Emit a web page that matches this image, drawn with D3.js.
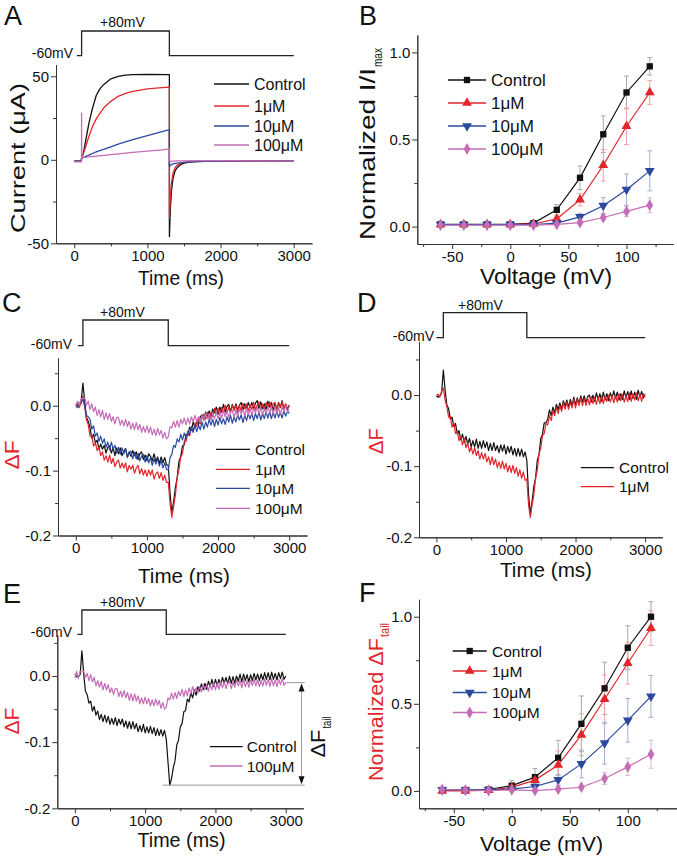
<!DOCTYPE html>
<html><head><meta charset="utf-8">
<script src="https://cdnjs.cloudflare.com/ajax/libs/d3/7.8.5/d3.min.js"></script>
<style>body{margin:0;background:#fff}svg{display:block}</style>
</head><body><script>
// ---------------- DATA ----------------
const seriesNames = ["Control", "1\u03BCM", "10\u03BCM", "100\u03BCM"];
// Panel A: current traces (time ms, current µA)
const aControlT = [0,95,100,125,150,200,250,300,350,400,500,600,700,800,1000,1300,1300.5,1305,1315,1330,1350,1375,1400,1450,1500,1600,2000,2500,3000];
const aControlV = [-0.8,-0.8,1,4,10,22,31,38.5,42.5,45,48.5,50,50.7,51,51.2,51,-46,-40,-28,-18,-11,-7,-5,-3,-2,-1.2,-0.7,-0.6,-0.8];
const a1uMT = [0,95,100,150,200,250,300,400,500,600,700,800,1000,1200,1300,1300.5,1310,1325,1350,1375,1400,1450,1500,1600,2000,2500,3000];
const a1uMV = [-0.8,-0.8,1,7,14,20,24.5,31,35,38,39.8,41,42.5,43.2,43.5,-35,-25,-15,-8,-5,-3.5,-2,-1.5,-1,-0.6,-0.6,-0.8];
const a10uMT = [0,95,100,200,300,400,500,600,700,800,900,1000,1100,1200,1300,1300.5,1320,1350,1400,1500,1700,2000,2500,3000];
const a10uMV = [-0.8,-0.8,1,2.8,4.8,6.2,7.8,9.4,10.8,12.1,13.3,14.5,15.6,16.8,18,-4,-3,-2.5,-2,-1.5,-1,-0.8,-0.6,-0.8];
const a100uMT = [0,95,99,100,101,105,110,200,400,600,800,1000,1200,1300,1300.5,1310,1400,2000,2500,3000];
const a100uMV = [-1.2,-1.2,-1.2,28,8,2,1.2,1.7,2.7,3.6,4.4,5.2,6,6.5,-0.5,-1,-0.7,-0.5,-0.6,-0.8];

// Panels B & F: voltages and normalized values with SD
const voltages = [-60,-40,-20,0,20,40,60,80,100,120];
const bControl = [0.013,0.013,0.013,0.013,0.02,0.096,0.28,0.53,0.77,0.92];
const b1uM     = [0.012,0.012,0.012,0.012,0.015,0.044,0.154,0.352,0.576,0.77];
const b10uM    = [0.011,0.011,0.011,0.011,0.012,0.02,0.056,0.12,0.212,0.32];
const b100uM   = [0.008,0.008,0.008,0.008,0.008,0.013,0.023,0.052,0.087,0.123];
const bControlErr = [0,0,0,0,0.006,0.03,0.068,0.105,0.094,0.05];
const b1uMErr     = [0,0,0,0,0.004,0.012,0.035,0.09,0.105,0.068];
const b10uMErr    = [0,0,0,0,0.003,0.008,0.02,0.046,0.09,0.115];
const b100uMErr   = [0,0,0,0,0.002,0.005,0.01,0.015,0.03,0.042];

const fControl = [0.005,0.005,0.008,0.03,0.079,0.19,0.385,0.589,0.822,1.0];
const f1uM     = [0.0,0.0,0.004,0.02,0.062,0.149,0.322,0.526,0.733,0.935];
const f10uM    = [0.006,0.005,0.006,0.01,0.025,0.063,0.155,0.274,0.405,0.543];
const f100uM   = [0.008,0.005,0.002,0.006,0.002,0.01,0.021,0.071,0.138,0.21];
const fControlErr = [0.005,0.005,0.01,0.03,0.05,0.1,0.16,0.15,0.126,0.086];
const f1uMErr     = [0.005,0.005,0.01,0.02,0.03,0.08,0.12,0.14,0.12,0.1];
const f10uMErr    = [0.005,0.005,0.005,0.01,0.02,0.03,0.08,0.12,0.125,0.12];
const f100uMErr   = [0.005,0.005,0.005,0.005,0.005,0.01,0.01,0.035,0.05,0.08];

// Panels C, D, E: fluorescence traces, sampled every 25 ms from 0 to 3000 ms, values in ΔF × 1000
const traceTimes = d3.range(0, 3001, 25);
const cControl = [2,0,2,6,35,7,-18,-24,-34,-50,-44,-57,-53,-67,-59,-67,-61,-73,-64,-62,-73,-65,-77,-65,-74,-65,-77,-70,-66,-79,-71,-78,-69,-77,-71,-83,-74,-71,-83,-76,-85,-74,-78,-85,-74,-86,-79,-89,-79,-88,-80,-91,-92,-135,-165,-148,-126,-111,-86,-78,-62,-60,-44,-46,-33,-38,-25,-33,-23,-29,-17,-14,-22,-10,-17,-8,-17,-5,-11,-2,-13,-2,-10,2,-10,-1,2,-9,2,-7,3,-7,1,5,-7,3,-6,5,-3,5,-6,4,8,-4,6,-5,3,-6,7,-2,5,-7,4,-6,5,-3,8,-5,2,-6,1];
const c1uM = [1,3,-3,6,15,-2,-22,-29,-47,-46,-62,-57,-69,-64,-77,-71,-84,-77,-87,-76,-89,-81,-94,-87,-84,-96,-88,-96,-88,-102,-92,-98,-92,-104,-96,-92,-105,-97,-107,-99,-109,-99,-107,-99,-113,-105,-102,-112,-103,-115,-107,-118,-118,-150,-172,-155,-138,-111,-99,-79,-74,-55,-55,-42,-46,-34,-40,-27,-32,-19,-28,-18,-13,-21,-10,-20,-10,-17,-4,-13,-4,-14,-3,-10,1,-11,-2,-11,1,-7,1,-10,1,-8,4,-5,3,-8,1,-6,5,-6,1,6,-6,3,-6,5,-3,6,-4,3,5,-6,4,-2,6,-5,3,-4,0];
const c10uM = [-1,-3,4,3,12,-1,-15,-17,-21,-36,-31,-47,-42,-55,-47,-58,-51,-64,-56,-68,-56,-67,-61,-73,-64,-75,-65,-74,-66,-80,-72,-70,-82,-72,-82,-73,-85,-78,-75,-87,-77,-88,-80,-92,-82,-90,-82,-93,-84,-96,-88,-98,-99,-80,-75,-61,-64,-51,-56,-44,-53,-42,-50,-39,-45,-32,-41,-30,-40,-30,-37,-25,-36,-25,-33,-21,-30,-21,-32,-21,-30,-18,-28,-20,-29,-17,-25,-15,-27,-17,-25,-14,-22,-14,-26,-14,-23,-12,-20,-12,-23,-12,-20,-10,-22,-12,-20,-9,-19,-9,-20,-10,-19,-8,-18,-10,-19,-8,-16,-9,-12];
const c100uM = [2,7,1,11,11,12,1,7,-6,3,-9,-2,-15,-6,-17,-7,-21,-11,-21,-12,-24,-17,-28,-18,-18,-30,-22,-31,-21,-32,-24,-36,-27,-37,-26,-37,-29,-41,-32,-41,-31,-42,-33,-45,-36,-46,-35,-45,-38,-50,-41,-51,-48,-32,-34,-24,-33,-23,-33,-21,-28,-19,-29,-19,-28,-17,-25,-15,-25,-17,-25,-15,-23,-12,-20,-12,-22,-12,-20,-9,-20,-10,-19,-7,-17,-8,-18,-9,-7,-18,-7,-16,-5,-13,-5,-16,-4,-14,-5,-15,-4,-11,-2,-12,-3,-14,-5,-12,-1,-11,-2,-13,-1,-12,-3,-13,-2,-9,0,-10,-6];
const dControl = [-1,-3,-1,3,35,7,-14,-19,-34,-31,-44,-40,-55,-50,-63,-55,-67,-58,-69,-61,-73,-64,-73,-62,-75,-65,-75,-64,-74,-66,-78,-68,-78,-67,-78,-71,-81,-70,-79,-70,-83,-72,-81,-72,-84,-75,-86,-75,-86,-76,-87,-80,-92,-140,-168,-150,-129,-117,-92,-84,-61,-55,-39,-39,-34,-21,-29,-17,-25,-13,-21,-11,-20,-8,-16,-7,-17,-6,-15,-3,-14,-4,-12,-1,-10,-1,-11,-2,0,-10,0,-9,3,-7,2,-9,4,-7,2,-8,3,-4,6,-5,4,-7,2,-6,6,-4,5,-6,6,-5,4,-6,7,-3,5,-4,1];
const d1uM = [0,1,-3,5,10,-7,-16,-31,-30,-45,-39,-54,-50,-64,-58,-70,-61,-74,-67,-80,-73,-83,-74,-85,-78,-90,-81,-90,-82,-94,-87,-98,-87,-98,-90,-102,-94,-103,-93,-104,-96,-108,-99,-109,-99,-110,-102,-114,-105,-117,-108,-120,-118,-155,-172,-155,-141,-117,-106,-82,-75,-57,-54,-40,-42,-29,-36,-22,-29,-17,-26,-15,-23,-11,-20,-10,-20,-10,-18,-6,-18,-6,-15,-4,-15,-5,-15,-4,-14,-2,-12,-3,-13,-3,-12,-1,-12,-1,-9,0,-10,-1,-11,0,-10,2,-8,1,-10,-1,-9,3,-9,2,-7,3,-8,1,-9,2,-3];
const eControl = [3,-1,-1,2,38,4,-23,-28,-41,-38,-53,-46,-59,-53,-66,-58,-69,-59,-70,-61,-73,-64,-73,-63,-75,-65,-73,-65,-77,-68,-79,-69,-80,-69,-80,-72,-84,-75,-84,-73,-86,-77,-86,-76,-87,-78,-90,-80,-90,-81,-91,-82,-95,-130,-165,-155,-139,-128,-104,-97,-77,-72,-54,-52,-35,-39,-25,-33,-21,-29,-16,-23,-12,-21,-11,-20,-8,-16,-5,-16,-5,-15,-5,-13,-2,-11,-2,-12,0,-11,-1,-11,0,-8,3,-9,3,-7,2,-9,2,-7,4,-6,3,-7,3,-6,5,-5,5,-6,6,-5,4,-6,5,-4,6,-5,0];
const e100uM = [-3,7,-4,7,6,7,-2,4,-7,2,-9,-2,-15,-7,-17,-8,-21,-11,-21,-13,-25,-18,-28,-19,-19,-31,-23,-32,-22,-33,-25,-37,-27,-38,-27,-38,-30,-42,-33,-42,-32,-42,-34,-45,-36,-45,-35,-44,-37,-49,-40,-50,-47,-33,-36,-26,-35,-25,-34,-23,-30,-20,-31,-21,-30,-18,-27,-16,-26,-18,-26,-16,-24,-13,-21,-13,-23,-13,-21,-10,-21,-11,-20,-8,-18,-9,-19,-10,-8,-19,-9,-17,-6,-15,-7,-18,-5,-16,-7,-17,-6,-14,-5,-15,-6,-16,-7,-15,-4,-14,-5,-16,-4,-15,-6,-16,-5,-13,-4,-14,-10];
// ΔF_tail annotation in panel E (ΔF × 1000)
const tailLevels = [-10, -165];
// Voltage protocol (ms)
const protocolTimes = [100, 1300, 3000];

// Tick values
const timeTicks = [0,1000,2000,3000], timeMinor = [500,1500,2500];
const currentTicks = [-50,0,50], currentMinor = [-25,25];
const voltTicks = [-50,0,50,100], voltMinor = [-75,-25,25,75,125];
const normTicks = [0,0.5,1.0], normMinor = [0.25,0.75];
const dfTicks = [-200,-100,0], dfMinor = [-150,-50,50];

// ---------------- STYLE ----------------
const FONT = '"Liberation Sans", Arial, Helvetica, sans-serif';
const COL = ["#111111", "#e3262b", "#2b4a9f", "#c46cb6"];
const ERRCOL = ["#a8a8a8", "#f0a2a2", "#a3afd4", "#e4b6dc"];
const RED = "#e3262b";
const svg = d3.select("body").append("svg").attr("width", 677).attr("height", 856)
  .attr("font-family", FONT);

function axes(xs, ys, xMaj, xMin, yMaj, yMin, xFmt, yFmt) {
  const y0 = ys.range()[0], x0 = xs.range()[0];
  const g = svg.append("g");
  g.append("g").attr("transform", `translate(0,${y0})`)
    .call(d3.axisBottom(xs).tickValues(xMin).tickSize(3).tickSizeOuter(0).tickFormat(""));
  g.append("g").attr("transform", `translate(0,${y0})`)
    .call(d3.axisBottom(xs).tickValues(xMaj).tickSize(5).tickSizeOuter(0).tickPadding(2).tickFormat(xFmt));
  g.append("g").attr("transform", `translate(${x0},0)`)
    .call(d3.axisLeft(ys).tickValues(yMin).tickSize(3).tickSizeOuter(0).tickFormat(""));
  g.append("g").attr("transform", `translate(${x0},0)`)
    .call(d3.axisLeft(ys).tickValues(yMaj).tickSize(5).tickSizeOuter(0).tickPadding(2).tickFormat(yFmt));
  g.selectAll(".domain,.tick line").attr("stroke", "#333").attr("stroke-width", 1);
  g.selectAll("g").attr("font-family", FONT).attr("font-size", 15);
  g.selectAll(".tick text").attr("fill", "#111");
}
function text(x, y, s, size, opts = {}) {
  const t = svg.append("text").attr("x", x).attr("y", y).attr("font-size", size)
    .attr("fill", opts.fill || "#111").attr("text-anchor", opts.anchor || "start").text(s);
  if (opts.len) t.attr("textLength", opts.len).attr("lengthAdjust", "spacingAndGlyphs");
  return t;
}
// rotated (-90°) title; mainLen / subLen are the on-screen lengths of the two parts
function rotLabel(x, y, main, sub, size, fill, mainLen, subLen) {
  const g = svg.append("g").attr("transform", `translate(${x},${y}) rotate(-90)`).attr("fill", fill);
  const total = mainLen + (sub ? subLen + 1 : 0);
  g.append("text").attr("x", -total / 2).attr("y", 0).attr("font-size", size)
    .attr("textLength", mainLen).attr("lengthAdjust", "spacingAndGlyphs").text(main);
  if (sub) g.append("text").attr("x", -total / 2 + mainLen + 1).attr("y", size * 0.3)
    .attr("font-size", size * 0.62).attr("textLength", subLen).attr("lengthAdjust", "spacingAndGlyphs").text(sub);
}
function protocol(xs, t0, yLow, yHigh, lowLab, highLab) {
  const pts = [[xs(t0), yLow], [xs(protocolTimes[0]), yLow], [xs(protocolTimes[0]), yHigh],
    [xs(protocolTimes[1]), yHigh], [xs(protocolTimes[1]), yLow], [xs(protocolTimes[2]), yLow]];
  svg.append("path").attr("d", d3.line()(pts)).attr("fill", "none").attr("stroke", "#222").attr("stroke-width", 1.3);
  text(lowLab[0], lowLab[1], "-60mV", 14, {anchor: "end"});
  text(highLab[0], highLab[1], "+80mV", 14);
}
function pathXY(xs, ys, T, V, color, w) {
  svg.append("path").datum(V).attr("fill", "none").attr("stroke", color).attr("stroke-width", w)
    .attr("stroke-linejoin", "round")
    .attr("d", d3.line().x((d, i) => xs(T[i])).y(d => ys(d)));
}
const symTypes = [d3.symbolSquare, d3.symbolTriangle, d3.symbolTriangle, d3.symbolDiamond];
const symRot = [0, 0, 180, 0];
const symSize = [40, 42, 42, 40];
function marker(x, y, k) {
  svg.append("path").attr("d", d3.symbol(symTypes[k], symSize[k])())
    .attr("transform", `translate(${x},${y}) rotate(${symRot[k]})`).attr("fill", COL[k]);
}
function legend(x1, x2, xt, rows, idx, size, withMarker) {
  idx.forEach((k, j) => {
    svg.append("line").attr("x1", x1).attr("x2", x2).attr("y1", rows[j]).attr("y2", rows[j])
      .attr("stroke", COL[k]).attr("stroke-width", 1.3);
    if (withMarker) marker((x1 + x2) / 2, rows[j], k);
    text(xt, rows[j] + size * 0.36, seriesNames[k], size);
  });
}
function ivPanel(xs, ys, vals, errs) {
  vals.forEach((v, k) => {
    errs[k].forEach((e, i) => {
      if (e <= 0) return;
      const x = xs(voltages[i]);
      const g = svg.append("g").attr("stroke", ERRCOL[k]).attr("stroke-width", 1);
      g.append("line").attr("x1", x).attr("x2", x).attr("y1", ys(v[i] - e)).attr("y2", ys(v[i] + e));
      g.append("line").attr("x1", x - 2.5).attr("x2", x + 2.5).attr("y1", ys(v[i] - e)).attr("y2", ys(v[i] - e));
      g.append("line").attr("x1", x - 2.5).attr("x2", x + 2.5).attr("y1", ys(v[i] + e)).attr("y2", ys(v[i] + e));
    });
  });
  vals.forEach((v, k) => {
    svg.append("path").datum(v).attr("fill", "none").attr("stroke", COL[k]).attr("stroke-width", 1.2)
      .attr("d", d3.line().x((d, i) => xs(voltages[i])).y(d => ys(d)));
  });
  vals.forEach((v, k) => v.forEach((d, i) => marker(xs(voltages[i]), ys(d), k)));
}
const fmtInt = d => String(d);
const fmt1 = d => d.toFixed(1);
const fmtDF = d => (d / 1000).toFixed(1);

// ---------------- PANEL A ----------------
const xA = d3.scaleLinear().domain([-250, 3250]).range([56, 312]);
const yA = d3.scaleLinear().domain([-50, 57]).range([243.3, 64.6]);
axes(xA, yA, timeTicks, timeMinor, currentTicks, currentMinor, fmtInt, fmtInt);
pathXY(xA, yA, aControlT, aControlV, COL[0], 1.3);
pathXY(xA, yA, a1uMT, a1uMV, COL[1], 1.3);
pathXY(xA, yA, a10uMT, a10uMV, COL[2], 1.3);
pathXY(xA, yA, a100uMT, a100uMV, COL[3], 1.3);
protocol(xA, 35, 55.7, 31, [73, 58], [100, 27]);
legend(214, 249, 254, [84, 106, 126, 145], [0, 1, 2, 3], 16, false);
text(181, 285, "Time (ms)", 20, {anchor: "middle", len: 86});
rotLabel(25, 158, "Current (\u03BCA)", null, 21, "#111", 150, 0);
text(4, 25, "A", 27);

// ---------------- PANEL B ----------------
const xB = d3.scaleLinear().domain([-80, 140]).range([417.3, 673]);
const yB = d3.scaleLinear().domain([-0.1, 1.1]).range([244, 35]);
axes(xB, yB, voltTicks, voltMinor, normTicks, normMinor, fmtInt, fmt1);
ivPanel(xB, yB, [bControl, b1uM, b10uM, b100uM], [bControlErr, b1uMErr, b10uMErr, b100uMErr]);
legend(448, 486, 491, [80, 103, 126, 149], [0, 1, 2, 3], 17, true);
text(546, 284, "Voltage (mV)", 22, {anchor: "middle", len: 132});
rotLabel(375, 144, "Normalized I/I", "max", 22, "#111", 172, 19);
text(359, 25, "B", 27);

// ---------------- PANEL C ----------------
const xC = d3.scaleLinear().domain([-250, 3250]).range([58, 307]);
const yC = d3.scaleLinear().domain([-200, 74]).range([535.5, 357.7]);
axes(xC, yC, timeTicks, timeMinor, dfTicks, dfMinor, fmtInt, fmtDF);
pathXY(xC, yC, traceTimes, cControl, COL[0], 1.2);
pathXY(xC, yC, traceTimes, c1uM, COL[1], 1.2);
pathXY(xC, yC, traceTimes, c10uM, COL[2], 1.2);
pathXY(xC, yC, traceTimes, c100uM, COL[3], 1.2);
protocol(xC, 32, 345.7, 320, [72, 349], [100, 317]);
legend(216, 250, 255, [449.3, 469.3, 488.3, 508.3], [0, 1, 2, 3], 15.5, false);
text(184, 583, "Time (ms)", 20, {anchor: "middle", len: 92});
rotLabel(19, 455, "\u0394F", null, 21, RED, 29, 0);
text(2, 312, "C", 27);

// ---------------- PANEL D ----------------
const xD = d3.scaleLinear().domain([-250, 3250]).range([419, 662.5]);
const yD = d3.scaleLinear().domain([-200, 75]).range([537.3, 341.7]);
axes(xD, yD, timeTicks, timeMinor, dfTicks, dfMinor, fmtInt, fmtDF);
pathXY(xD, yD, traceTimes, dControl, COL[0], 1.2);
pathXY(xD, yD, traceTimes, d1uM, COL[1], 1.2);
protocol(xD, 0, 337.7, 312.7, [434, 341], [458, 310]);
legend(580.7, 614, 619, [467.7, 486.7], [0, 1], 15.5, false);
text(546, 577, "Time (ms)", 20, {anchor: "middle", len: 92});
rotLabel(383, 441, "\u0394F", null, 21, RED, 26, 0);
text(357, 312, "D", 27);

// ---------------- PANEL E ----------------
const xE = d3.scaleLinear().domain([-250, 3250]).range([57.3, 303.3]);
const yE = d3.scaleLinear().domain([-200, 62]).range([808.3, 635]);
axes(xE, yE, timeTicks, timeMinor, dfTicks, dfMinor, fmtInt, fmtDF);
pathXY(xE, yE, traceTimes, eControl, COL[0], 1.2);
pathXY(xE, yE, traceTimes, e100uM, COL[3], 1.2);
protocol(xE, 37, 634.3, 610, [72, 637], [100, 606.5]);
legend(210, 242.7, 246.7, [746.7, 766], [0, 3], 15.5, false);
text(181.5, 847, "Time (ms)", 20, {anchor: "middle", len: 88});
rotLabel(19, 721, "\u0394F", null, 20, RED, 27, 0);
text(3, 603, "E", 27);
// ΔF_tail annotation
{
  const yT = yE(tailLevels[0]), yB2 = yE(tailLevels[1]);
  const xv = xE(3225);
  svg.append("line").attr("x1", xE(3000)).attr("x2", xE(3270)).attr("y1", yT).attr("y2", yT).attr("stroke", "#999");
  svg.append("line").attr("x1", xE(1250)).attr("x2", xE(3270)).attr("y1", yB2).attr("y2", yB2).attr("stroke", "#999");
  svg.append("line").attr("x1", xv).attr("x2", xv).attr("y1", yT + 4).attr("y2", yB2 - 4).attr("stroke", "#999");
  svg.append("path").attr("d", `M${xv},${yT + 1}L${xv - 3},${yT + 9}L${xv + 3},${yT + 9}Z`).attr("fill", "#111");
  svg.append("path").attr("d", `M${xv},${yB2 - 1}L${xv - 3},${yB2 - 9}L${xv + 3},${yB2 - 9}Z`).attr("fill", "#111");
  rotLabel(325, 737, "\u0394F", "tail", 21, "#111", 28, 12);
}

// ---------------- PANEL F ----------------
const xF = d3.scaleLinear().domain([-80, 142]).range([419, 676.5]);
const yF = d3.scaleLinear().domain([-0.1, 1.1]).range([808.3, 599.3]);
axes(xF, yF, voltTicks, voltMinor, normTicks, normMinor, fmtInt, fmt1);
ivPanel(xF, yF, [fControl, f1uM, f10uM, f100uM], [fControlErr, f1uMErr, f10uMErr, f100uMErr]);
legend(452.7, 486.7, 492, [651, 671, 692.5, 712.5], [0, 1, 2, 3], 15.5, true);
text(541.5, 851, "Voltage (mV)", 21, {anchor: "middle", len: 123});
rotLabel(383, 702, "Normalized \u0394F", "tail", 21, RED, 143, 14);
text(359, 602, "F", 27);
</script></body></html>
